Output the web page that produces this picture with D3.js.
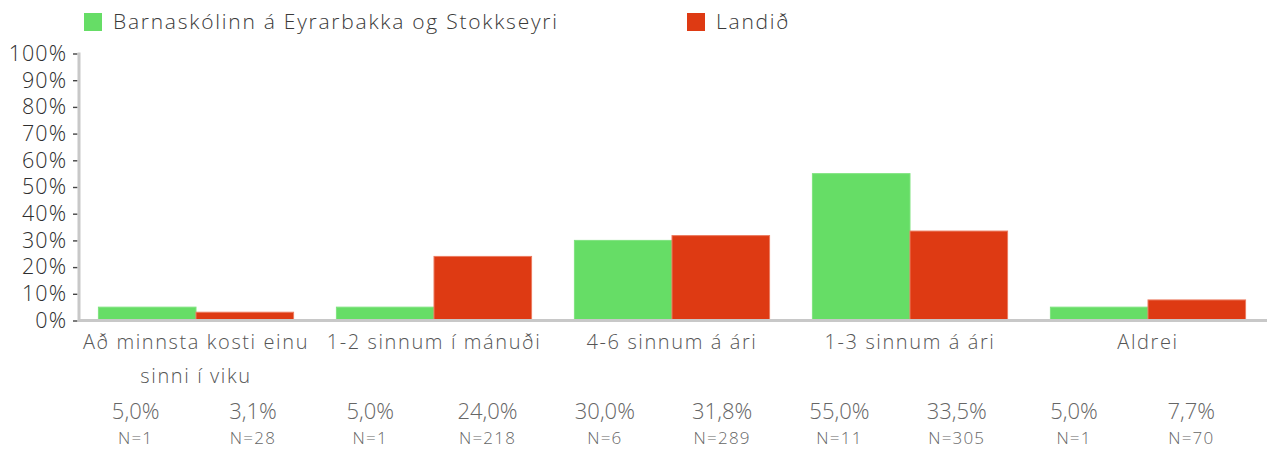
<!DOCTYPE html>
<html>
<head>
<meta charset="utf-8">
<script src="https://cdn.jsdelivr.net/npm/d3@7"></script>
<style>
  html, body { margin: 0; padding: 0; background: #ffffff; }
  svg { display: block; font-family: "Open Sans", "DejaVu Sans", sans-serif; }
</style>
</head>
<body>
<svg id="chart" width="1276" height="452"></svg>
<script>
// Answer categories (x axis), one entry per group
const categories = [
  ["Að minnsta kosti einu", "sinni í viku"],
  ["1-2 sinnum í mánuði"],
  ["4-6 sinnum á ári"],
  ["1-3 sinnum á ári"],
  ["Aldrei"]
];
const seriesNames = ["Barnaskólinn á Eyrarbakka og Stokkseyri", "Landið"];
const seriesColors = ["#66dd66", "#de3a13"];
const seriesStroke = ["#7fe37f", "#ec7b60"];

// Percent values per series, in category order
const schoolValues = [5.0, 5.0, 30.0, 55.0, 5.0];
const countryValues = [3.1, 24.0, 31.8, 33.5, 7.7];

// Respondent counts per series
const schoolN = [1, 1, 6, 11, 1];
const countryN = [28, 218, 289, 305, 70];

const yTicks = [0, 10, 20, 30, 40, 50, 60, 70, 80, 90, 100];

const svg = d3.select("#chart");
const catKeys = categories.map(c => c.join(" "));
const series = [schoolValues, countryValues];
const counts = [schoolN, countryN];

const x0 = d3.scaleBand().domain(catKeys).range([77, 1267])
  .paddingInner(0.18).paddingOuter(0.09);
const x1 = d3.scaleBand().domain([0, 1]).range([0, x0.bandwidth()]).padding(0);
const y = d3.scaleLinear().domain([0, 100]).range([320.5, 53.5]);

// Y axis
const yAxis = svg.append("g").attr("transform", "translate(79,0)")
  .call(d3.axisLeft(y).tickValues(yTicks).tickSize(6).tickPadding(7)
    .tickFormat(d => d + "%"));
yAxis.select(".domain").remove();
yAxis.selectAll(".tick line").attr("stroke", "#444").attr("stroke-width", 1.4).attr("x2", -1.5).attr("x1", -6);
yAxis.selectAll(".tick text")
  .attr("fill", "#2e2e2e").attr("font-size", 21.5).attr("x", -12)
  .attr("font-weight", 300)
  .style("letter-spacing", "1px")
  .style("font-family", "'Open Sans', sans-serif");
svg.append("line")
  .attr("x1", 79).attr("x2", 79).attr("y1", y(100) - 1).attr("y2", y(0))
  .attr("stroke", "#c8c8c8").attr("stroke-width", 3);

// Bars
const groups = svg.append("g").selectAll("g").data(catKeys).join("g")
  .attr("transform", d => `translate(${x0(d)},0)`);
groups.selectAll("rect")
  .data((d, i) => series.map((s, k) => ({ k, v: s[i] })))
  .join("rect")
  .attr("x", d => x1(d.k))
  .attr("y", d => y(d.v))
  .attr("width", x1.bandwidth())
  .attr("height", d => y(0) - y(d.v))
  .attr("fill", d => seriesColors[d.k])
  .attr("stroke", d => seriesStroke[d.k])
  .attr("stroke-width", 1);

// Baseline
svg.append("line")
  .attr("x1", 78).attr("x2", 1267).attr("y1", y(0)).attr("y2", y(0))
  .attr("stroke", "#c8c8c8").attr("stroke-width", 3);

// Category labels
const catLabels = svg.append("g").selectAll("text").data(categories).join("text")
  .attr("x", (d, i) => x0(catKeys[i]) + x0.bandwidth() / 2)
  .attr("y", 349)
  .attr("text-anchor", "middle")
  .attr("fill", "#555")
  .attr("font-size", 20)
  .attr("font-weight", 300)
  .style("letter-spacing", "1.6px");
catLabels.selectAll("tspan").data(d => d).join("tspan")
  .attr("x", function () { return this.parentNode.getAttribute("x"); })
  .attr("dy", (d, j) => j === 0 ? 0 : 34)
  .text(d => d);

// Value table below the axis: one column per series per category
const cells = [];
catKeys.forEach((c, i) => {
  series.forEach((s, k) => cells.push({ key: c + "|" + k, v: s[i], n: counts[k][i] }));
});
const xt = d3.scaleBand().domain(cells.map(d => d.key)).range([77, 1250]);
const fmt = v => v.toFixed(1).replace(".", ",") + "%";

svg.append("g").selectAll("text").data(cells).join("text")
  .attr("x", d => xt(d.key) + xt.bandwidth() / 2)
  .attr("y", 419)
  .attr("text-anchor", "middle")
  .attr("fill", "#666")
  .attr("font-size", 22)
  .attr("font-weight", 300)
  .text(d => fmt(d.v));

svg.append("g").selectAll("text").data(cells).join("text")
  .attr("x", d => xt(d.key) + xt.bandwidth() / 2)
  .attr("y", 444)
  .attr("text-anchor", "middle")
  .attr("fill", "#666")
  .attr("font-size", 17)
  .attr("font-weight", 300)
  .style("letter-spacing", "1.2px")
  .text(d => "N=" + d.n);

// Legend
const legendX = [84, 687];
const legend = svg.append("g").selectAll("g").data(seriesNames).join("g")
  .attr("transform", (d, i) => `translate(${legendX[i]},13)`);
legend.append("rect").attr("width", 18).attr("height", 18)
  .attr("fill", (d, i) => seriesColors[i]);
legend.append("text").attr("x", 29).attr("y", 16)
  .attr("fill", "#3a3a3a").attr("font-size", 21)
  .attr("font-weight", 300)
  .style("letter-spacing", "1.75px")
  .text(d => d);
</script>
</body>
</html>
